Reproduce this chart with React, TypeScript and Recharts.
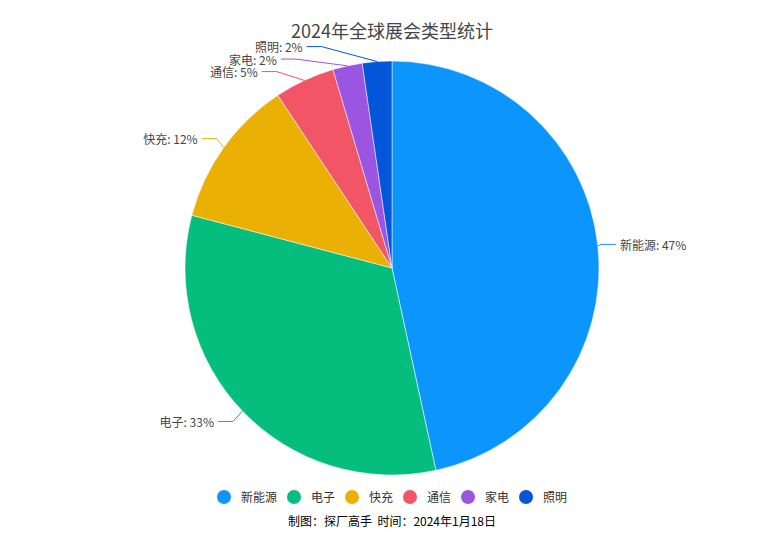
import { PieChart, Pie, Cell, Legend } from 'recharts'

const categories = ['新能源', '电子', '快充', '通信', '家电', '照明']
const shares = [46.6, 32.5, 11.6, 4.7, 2.3, 2.3]
const colors = ['#0c95fc', '#05be7e', '#ebb004', '#f25565', '#9b55e0', '#0356d8']

const data = categories.map((name, i) => ({ name, value: shares[i] }))

const FONT = '"Noto Sans CJK SC", "Noto Sans", sans-serif'
const CX = 392
const CY = 268
const R = 207

type LabelPos = { sx: number; sy: number; ex: number; ey: number; dir: number }

// echarts-like label layout: elbow on an ellipse, labels pushed apart on each side
function layoutLabels(): LabelPos[] {
  const total = shares.reduce((a, b) => a + b, 0)
  let acc = 0
  const items = shares.map((v) => {
    const mid = ((acc + v / 2) / total) * 2 * Math.PI
    acc += v
    return {
      sx: CX + R * Math.sin(mid),
      sy: CY - R * Math.cos(mid),
      ey: CY - (R + 15) * Math.cos(mid),
      ex: 0,
      dir: Math.sin(mid) >= 0 ? 1 : -1,
    }
  })
  for (const side of [1, -1]) {
    const list = items.filter((it) => it.dir === side).sort((a, b) => a.ey - b.ey)
    for (let k = 1; k < list.length; k++) {
      list[k].ey = Math.max(list[k].ey, list[k - 1].ey + 12.5)
    }
  }
  const rA = R + 3
  const rB = R + 28
  items.forEach((it) => {
    const dy = it.ey - CY
    it.ex = CX + it.dir * rA * Math.sqrt(Math.max(0, 1 - (dy * dy) / (rB * rB)))
  })
  return items
}

const labelPos = layoutLabels()

const renderLabel = (props: any) => {
  const { index, name, percent } = props
  const p = labelPos[index]
  const lx = p.ex + p.dir * 15
  return (
    <g key={`lbl-${index}`}>
      <polyline
        points={`${p.sx},${p.sy} ${p.ex},${p.ey} ${lx},${p.ey}`}
        fill="none"
        stroke={colors[index]}
        strokeWidth={1}
      />
      <text
        x={lx + p.dir * 4}
        y={p.ey}
        textAnchor={p.dir > 0 ? 'start' : 'end'}
        dominantBaseline="central"
        fontSize={12}
        fontFamily={FONT}
        fill="#464646"
      >
        {`${name}: ${Math.round(percent * 100)}%`}
      </text>
    </g>
  )
}

const renderLegend = () => (
  <div style={{ display: 'flex', justifyContent: 'center', gap: 10, fontFamily: FONT, fontSize: 12, color: '#333' }}>
    {categories.map((c, i) => (
      <div key={c} style={{ display: 'flex', alignItems: 'center', gap: 10 }}>
        <span style={{ width: 14, height: 14, borderRadius: '50%', background: colors[i], display: 'inline-block' }} />
        <span>{c}</span>
      </div>
    ))}
  </div>
)

export default function App() {
  return (
    <div style={{ position: 'relative', width: 784, height: 537, background: '#fff' }}>
      <style>{'body{margin:0}'}</style>
      <div
        style={{
          position: 'absolute', top: 19, left: 0, width: 784, textAlign: 'center',
          fontFamily: FONT, fontSize: 18, color: '#464646', lineHeight: '22px',
        }}
      >
        2024年全球展会类型统计
      </div>
      <PieChart width={784} height={537} margin={{ top: 0, right: 0, bottom: 0, left: 0 }}>
        <Pie
          data={data}
          dataKey="value"
          nameKey="name"
          cx={CX}
          cy={CY}
          outerRadius={R}
          startAngle={90}
          endAngle={-270}
          stroke="#fff"
          strokeWidth={0.5}
          label={renderLabel}
          labelLine={false}
          isAnimationActive={false}
        >
          {data.map((d, i) => (
            <Cell key={d.name} fill={colors[i]} />
          ))}
        </Pie>
        <Legend content={renderLegend} wrapperStyle={{ top: 488, left: 0, width: 784, bottom: 'auto' }} />
      </PieChart>
      <div
        style={{
          position: 'absolute', top: 513, left: 0, width: 784, textAlign: 'center',
          fontFamily: FONT, fontSize: 12, color: '#000', lineHeight: '16px',
        }}
      >
        制图：探厂高手&nbsp;&nbsp;时间：2024年1月18日
      </div>
    </div>
  )
}
